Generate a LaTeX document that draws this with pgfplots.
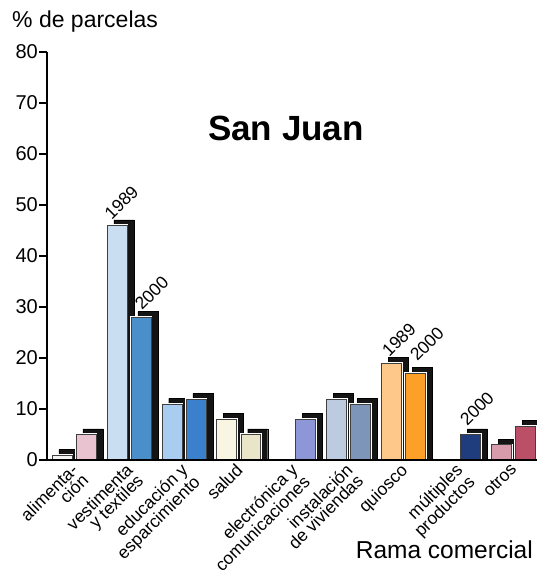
\documentclass[border=0pt]{standalone}
\usepackage{fontspec}
\setmainfont{Liberation Sans}
\usepackage{pgfplots}
\usepackage{pgfplotstable}
\pgfplotsset{compat=1.18}

% colores de las barras (1989 = A, 2000 = B)
\definecolor{alimA}{HTML}{F4F4F2}
\definecolor{alimB}{HTML}{EAC3D0}
\definecolor{vestA}{HTML}{C9DEF0}
\definecolor{vestB}{HTML}{4A8ECA}
\definecolor{educA}{HTML}{A8CDF0}
\definecolor{educB}{HTML}{3B80CC}
\definecolor{saluA}{HTML}{F8F5E2}
\definecolor{saluB}{HTML}{E9E5C9}
\definecolor{elecB}{HTML}{8D96D6}
\definecolor{instA}{HTML}{BCCBE0}
\definecolor{instB}{HTML}{7D95B8}
\definecolor{quioA}{HTML}{FDC88A}
\definecolor{quioB}{HTML}{FCA027}
\definecolor{multB}{HTML}{1F3C7C}
\definecolor{otroA}{HTML}{D89BAB}
\definecolor{otroB}{HTML}{BB4F68}

% x = rama -/+ 0.219 (1989 / 2000), y = % de parcelas
\pgfplotstableread{
x y
-0.219 1
0.219 5
0.781 46
1.219 28
1.781 11
2.219 12
2.781 8
3.219 5
4.219 8
4.781 12
5.219 11
5.781 19
6.219 17
7.219 5
7.781 3
8.219 6.7
}\ramas

\begin{document}
\begin{tikzpicture}
\begin{axis}[%
width=490pt,
height=408pt,
scale only axis,
at={(0pt,0pt)},
anchor=south west,
xmin=-0.49,
xmax=8.43,
ymin=0,
ymax=80,
axis x line=bottom,
axis y line=left,
axis line style={-, line width=1.3pt},
axis on top,
ytick={0,10,...,80},
tick align=outside,
major tick length=8pt,
y tick style={line width=1.3pt, black},
yticklabel style={font=\fontsize{20}{20}\selectfont, inner sep=1pt},
/pgf/number format/assume math mode=true,
xtick={0,...,8},
x tick style={draw=none},
xticklabels={{alimenta-\\ción}, {vestimenta\\y textiles}, {educación y\\esparcimiento}, salud, {electrónica y\\comunicaciones}, {instalación\\de viviendas}, quiosco, {múltiples\\productos}, otros},
xticklabel style={xshift=-4pt, yshift=6pt, rotate=45, anchor=north east, align=right, font=\fontsize{17.5}{15}\selectfont, inner sep=0pt},
every axis plot/.append style={ybar, bar width=0.364, bar shift=0pt},
]
% sombras
\addplot[fill=black!92, draw=black, x filter/.expression={x+0.127}, y filter/.expression={y+1.1}] table {\ramas};
% borde blanco
\addplot[fill=white, draw=white, line width=2.4pt] table {\ramas};
% barras
\addplot[fill=alimA, draw=black!75, line width=0.5pt] coordinates {(-0.219,1)};
\addplot[fill=alimB, draw=black!75, line width=0.5pt] coordinates {(0.219,5)};
\addplot[fill=vestA, draw=black!75, line width=0.5pt] coordinates {(0.781,46)};
\addplot[fill=vestB, draw=black!75, line width=0.5pt] coordinates {(1.219,28)};
\addplot[fill=educA, draw=black!75, line width=0.5pt] coordinates {(1.781,11)};
\addplot[fill=educB, draw=black!75, line width=0.5pt] coordinates {(2.219,12)};
\addplot[fill=saluA, draw=black!75, line width=0.5pt] coordinates {(2.781,8)};
\addplot[fill=saluB, draw=black!75, line width=0.5pt] coordinates {(3.219,5)};
\addplot[fill=elecB, draw=black!75, line width=0.5pt] coordinates {(4.219,8)};
\addplot[fill=instA, draw=black!75, line width=0.5pt] coordinates {(4.781,12)};
\addplot[fill=instB, draw=black!75, line width=0.5pt] coordinates {(5.219,11)};
\addplot[fill=quioA, draw=black!75, line width=0.5pt] coordinates {(5.781,19)};
\addplot[fill=quioB, draw=black!75, line width=0.5pt] coordinates {(6.219,17)};
\addplot[fill=multB, draw=black!75, line width=0.5pt] coordinates {(7.219,5)};
\addplot[fill=otroA, draw=black!75, line width=0.5pt] coordinates {(7.781,3)};
\addplot[fill=otroB, draw=black!75, line width=0.5pt] coordinates {(8.219,6.7)};

\node[font=\fontsize{35}{35}\selectfont\bfseries] at (axis cs:3.86,65) {San Juan};
\node[rotate=45, anchor=base west, inner sep=0pt, font=\fontsize{17.5}{17.5}\selectfont] at (axis cs:0.69,46.9) {1989};
\node[rotate=45, anchor=base west, inner sep=0pt, font=\fontsize{17.5}{17.5}\selectfont] at (axis cs:1.24,29.2) {2000};
\node[rotate=45, anchor=base west, inner sep=0pt, font=\fontsize{17.5}{17.5}\selectfont] at (axis cs:5.74,20.0) {1989};
\node[rotate=45, anchor=base west, inner sep=0pt, font=\fontsize{17.5}{17.5}\selectfont] at (axis cs:6.25,19.2) {2000};
\node[rotate=45, anchor=base west, inner sep=0pt, font=\fontsize{17.5}{17.5}\selectfont] at (axis cs:7.16,6.5) {2000};
\end{axis}
\node[anchor=base west, inner sep=0pt, font=\fontsize{23}{23}\selectfont] at (-35pt,432pt) {\% de parcelas};
\node[anchor=base east, inner sep=0pt, font=\fontsize{24.5}{24.5}\selectfont] at (486pt,-98pt) {Rama comercial};
\pgfresetboundingbox
\path (-47pt,-110pt) rectangle (490pt,460pt);
\end{tikzpicture}
\end{document}
